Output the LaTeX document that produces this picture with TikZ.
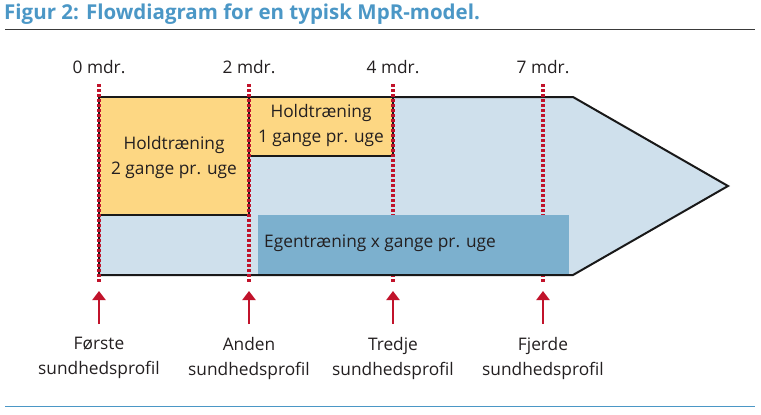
\documentclass[tikz,border=0pt]{standalone}
\usepackage{fontspec}
\setmainfont{Open Sans}
\usetikzlibrary{arrows.meta}
\definecolor{titleblue}{HTML}{4B97C6}
\definecolor{rulegray}{HTML}{3A3A3A}
\definecolor{orangebox}{HTML}{FDD783}
\definecolor{lightarrow}{HTML}{CFE0EC}
\definecolor{darkbox}{HTML}{7CB0CE}
\definecolor{mred}{HTML}{C1132B}
\definecolor{txt}{HTML}{231F20}
\begin{document}
\begin{tikzpicture}[x=1pt,y=-1pt,
  lbl/.style={font=\fontsize{17.3}{25}\selectfont, text=txt, inner sep=0pt, align=center},
  outline/.style={draw=black!90, line width=2pt},
  timeline/.style={draw=mred, line width=3.2pt, dash pattern=on 3pt off 2pt},
  profarrow/.style={draw=mred, line width=2.6pt, -{Triangle[length=9pt,width=13pt]}}]
\useasboundingbox (0,0) rectangle (761,415);
% title
\node[anchor=west, font=\bfseries\fontsize{20.5}{22}\selectfont, text=titleblue, inner sep=0pt] (title) at (4,14) {Figur 2: Flowdiagram for en typisk MpR-model.};
\draw[rulegray, line width=1pt] (5,29) -- (755,29);
\draw[titleblue, line width=1pt] (5,406) -- (755,406);
% main arrow
\fill[lightarrow] (99,97) -- (573,97) -- (728,186) -- (573,275) -- (99,275) -- cycle;
\draw[outline, line join=miter] (99,275) -- (99,97) -- (573,97) -- (728,186) -- (573,275) -- cycle;
% orange boxes
\filldraw[fill=orangebox, outline] (99,97) rectangle (249,215);
\filldraw[fill=orangebox, outline] (249,97) rectangle (393,156);
\node[lbl] (h1) at (174,158) {Holdtræning\\2 gange pr. uge};
\node[lbl] (h2) at (321,126) {Holdtræning\\1 gange pr. uge};
% timelines
\foreach \x/\n in {99/0,249/2,393/4,543/7}{
  \draw[timeline] (\x,84) -- (\x,283);
  \node[lbl] (m\n) at (\x,67) {\n\ mdr.};
}
% own training box
\fill[darkbox] (258,215) rectangle (569,274);
\draw[outline] (256,275) -- (573,275);
\node[lbl, anchor=west] (egen) at (264,243) {Egentræning x gange pr. uge};
% profiles
\node[lbl, anchor=north] (p1) at (99,337) {Første\\sundhedsprofil};
\node[lbl, anchor=north] (p2) at (249,337) {Anden\\sundhedsprofil};
\node[lbl, anchor=north] (p3) at (393,337) {Tredje\\sundhedsprofil};
\node[lbl, anchor=north] (p4) at (543,337) {Fjerde\\sundhedsprofil};
\foreach \i/\x in {1/99,2/249,3/393,4/543}{
  \coordinate (t\i) at (\x,291);
  \draw[profarrow, shorten <=13pt] (p\i.north) -- (t\i);
}
\end{tikzpicture}
\end{document}
